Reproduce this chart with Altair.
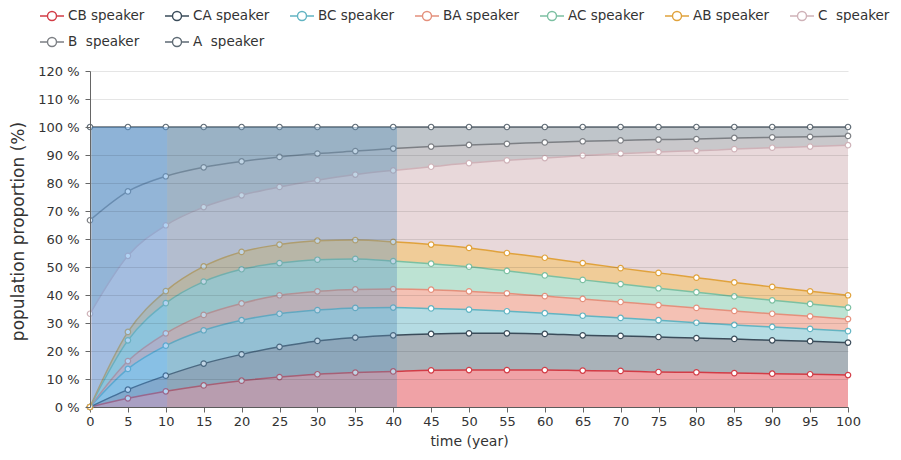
import altair as alt
import pandas as pd

# ---------------- data ----------------
years = list(range(0, 101, 5))
series_names = ["CB speaker", "CA speaker", "BC speaker", "BA speaker", "AC speaker",
                "AB speaker", "C\u00a0 speaker", "B\u00a0 speaker", "A\u00a0 speaker"]

CB = [0, 3.1, 5.6, 7.7, 9.4, 10.7, 11.7, 12.3, 12.7, 13.1, 13.2, 13.2, 13.2, 13.0, 12.9, 12.5, 12.4, 12.1, 11.9, 11.7, 11.4]
CA = [0, 3.1, 5.6, 7.8, 9.4, 10.8, 11.9, 12.5, 12.9, 13.0, 13.1, 13.1, 12.9, 12.6, 12.5, 12.5, 12.2, 12.2, 11.9, 11.8, 11.6]
BC = [0, 7.4, 10.7, 11.9, 12.2, 11.8, 11.0, 10.6, 9.9, 9.1, 8.5, 7.9, 7.4, 7.0, 6.4, 6.0, 5.5, 5.0, 4.8, 4.4, 4.1]
BA = [0, 2.8, 4.4, 5.5, 6.0, 6.6, 6.7, 6.6, 6.6, 6.7, 6.5, 6.4, 6.1, 6.0, 5.7, 5.4, 5.3, 5.0, 4.7, 4.5, 4.3]
AC = [0, 7.4, 10.8, 11.9, 12.2, 11.5, 11.3, 10.9, 10.0, 9.3, 8.8, 8.0, 7.4, 6.8, 6.4, 6.0, 5.6, 5.2, 4.8, 4.4, 4.1]
AB = [0, 3.0, 4.3, 5.4, 6.2, 6.6, 6.8, 6.7, 6.9, 6.8, 6.7, 6.4, 6.3, 6.0, 5.7, 5.5, 5.2, 5.0, 4.8, 4.5, 4.4]
C = [33.3, 27.2, 23.5, 21.2, 20.2, 20.6, 21.6, 23.4, 25.5, 27.8, 30.3, 33.1, 35.6, 38.4, 40.9, 43.2, 45.3, 47.6, 49.7, 51.7, 53.6]
B = [33.4, 23.0, 17.5, 14.2, 12.1, 10.7, 9.5, 8.4, 7.8, 7.2, 6.5, 5.9, 5.6, 5.1, 4.7, 4.4, 4.2, 4.0, 3.7, 3.5, 3.3]
A = [33.3, 23.0, 17.6, 14.4, 12.3, 10.7, 9.5, 8.6, 7.7, 7.0, 6.4, 6.0, 5.5, 5.1, 4.8, 4.5, 4.3, 3.9, 3.7, 3.5, 3.2]
series_values = [CB, CA, BC, BA, AC, AB, C, B, A]

# shaded periods (years)
shade_start = [0.2, 10.2]
shade_end = [10.2, 40.5]

# ---------------- styles ----------------
line_colors = ["#d23c46", "#3a4c5a", "#62b4c2", "#e4907c", "#7cc0a2",
               "#e0a23c", "#cfb2b8", "#7c7f84", "#5e6a74"]
fill_colors = ["#f0a2a6", "#a9b2b9", "#b5dce3", "#f4c1b4", "#bde3d3",
               "#f0cc98", "#e8d8da", "#c9c8cb", "#bfc5ca"]
shade_colors = ["#519ee7", "#6496be"]
shade_opacity = [0.45, 0.40]

rows = []
for k, (name, vals) in enumerate(zip(series_names, series_values)):
    for yr, v in zip(years, vals):
        rows.append({"year": yr, "series": name, "ord": k, "value": v})
df = pd.DataFrame(rows)

shade_df = pd.DataFrame({
    "x0": shade_start, "x1": shade_end,
    "top": [100, 100], "bottom": [0, 0],
    "c": shade_colors, "o": shade_opacity,
})

FONT = "DejaVu Sans"

x_axis = alt.Axis(values=years, title="time (year)", grid=False, labelFontSize=13,
                  labelColor="#333", titleFontSize=14, titleFontWeight="normal",
                  titleColor="#333", tickSize=5, labelPadding=3, titlePadding=6,
                  domainColor="#666", tickColor="#666", labelFlush=False)
y_axis = alt.Axis(values=list(range(0, 121, 10)), labelExpr="datum.value + ' %'",
                  title="population proportion (%)", grid=True, gridColor="#000",
                  gridOpacity=0.1, labelFontSize=13, labelColor="#333",
                  titleFontSize=17, titleFontWeight="normal", titleColor="#333",
                  tickSize=5, labelPadding=6, domainColor="#666", tickColor="#666",
                  titleX=-72, titleY=160, titleAngle=270, titleAlign="center",
                  titleBaseline="middle", zindex=1)

x_scale = alt.Scale(domain=[0, 100], nice=False, zero=False)
y_scale = alt.Scale(domain=[0, 120], nice=False)

base = alt.Chart(df).transform_stack(
    stack="value", groupby=["year"], as_=["v0", "v1"],
    sort=[alt.SortField("ord", order="ascending")],
)

X = alt.X("year:Q", scale=x_scale, axis=x_axis)
Y = alt.Y("v1:Q", scale=y_scale, axis=y_axis, stack=None)

area = base.mark_area(interpolate="monotone", opacity=1).encode(
    x=X, y=Y, y2="v0:Q",
    fill=alt.Fill("ord:N", scale=alt.Scale(domain=list(range(len(series_names))), range=fill_colors),
                  legend=None),
)

stroke_enc = alt.Stroke(
    "series:N",
    scale=alt.Scale(domain=series_names, range=line_colors),
    legend=alt.Legend(
        title=None, orient="none", legendX=-49, legendY=-66, direction="horizontal",
        columns=7, gridAlign="none", columnPadding=17, rowPadding=7,
        symbolType="M-1.2,0H-0.45M0.45,0H1.2M-0.45,0A0.45,0.45,0,1,1,0.45,0A0.45,0.45,0,1,1,-0.45,0",
        symbolSize=400, symbolStrokeWidth=1.4, symbolFillColor="white", symbolOpacity=1,
        labelFontSize=13.5, labelColor="#333", labelOffset=5, labelFont=FONT,
    ),
)

line = base.mark_line(interpolate="monotone", strokeWidth=1.5).encode(
    x=X, y=Y, stroke=stroke_enc,
)

points = base.mark_point(filled=True, fill="white", size=30, strokeWidth=1.2, opacity=1).encode(
    x=X, y=Y, stroke=stroke_enc,
)

shade = alt.Chart(shade_df).mark_rect().encode(
    x=alt.X("x0:Q", scale=x_scale, axis=x_axis), x2="x1:Q",
    y=alt.Y("top:Q", scale=y_scale, axis=y_axis), y2="bottom:Q",
    fill=alt.Fill("c:N", scale=None),
    opacity=alt.Opacity("o:Q", scale=None),
)

chart = alt.layer(area, line, points, shade).properties(
    width=758, height=336,
    padding={"left": 82, "top": 63, "right": 45, "bottom": 45},
    autosize="none",
).configure(font=FONT).configure_view(stroke=None)

chart.save("out.html", embed_options={"renderer": "svg", "actions": False})
